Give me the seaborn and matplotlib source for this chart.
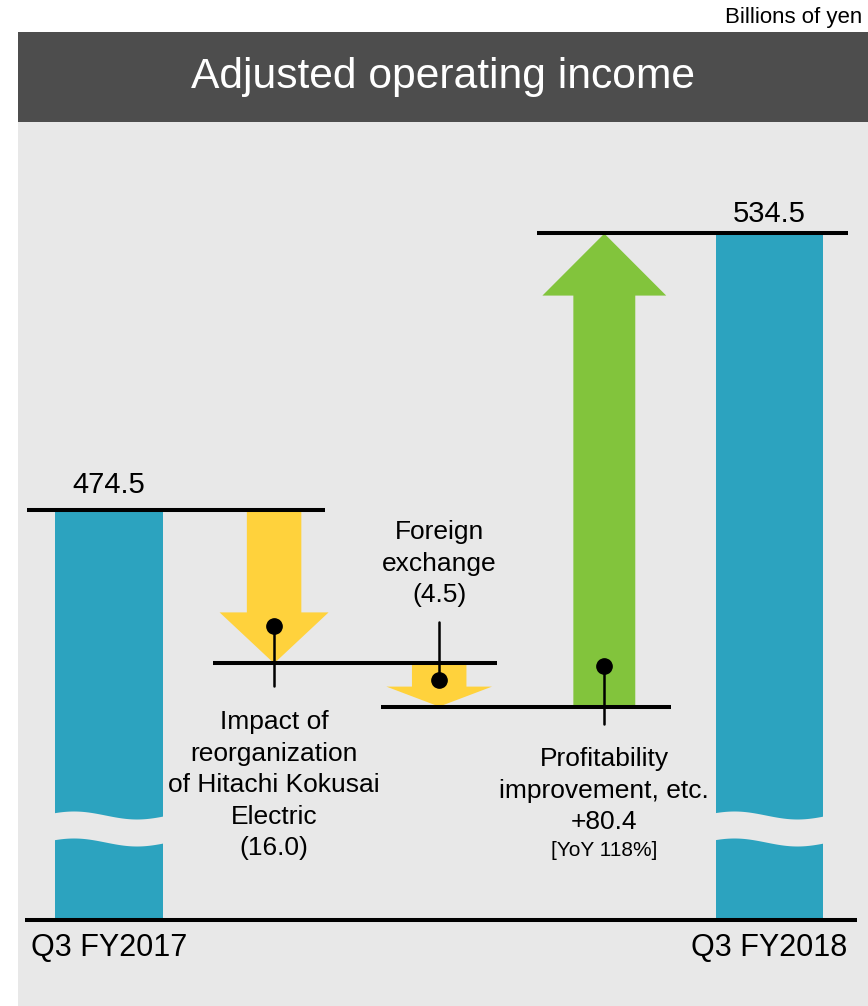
import numpy as np
import matplotlib
matplotlib.use("Agg")
import matplotlib.pyplot as plt
from matplotlib.patches import Rectangle
import seaborn as sns

# data, billions of yen
STEP_NAMES = ["Q3 FY2017", "Impact of reorganization", "Foreign exchange",
              "Profitability improvement", "Q3 FY2018"]
TOTAL_LABELS = ["Q3 FY2017", "Q3 FY2018"]
TOTAL_VALUES = [474.5, 534.5]
CHANGE_VALUES = [-16.0, -4.5, 80.4]
CHANGE_LABELS = ["Impact of\nreorganization\nof Hitachi Kokusai\nElectric\n(16.0)",
                 "Foreign\nexchange\n(4.5)",
                 "Profitability\nimprovement, etc.\n+80.4"]
YOY_NOTE = "[YoY 118%]"
UNIT_LABEL = "Billions of yen"
TITLE = "Adjusted operating income"

# colours
TEAL = "#2ca3bf"
YELLOW = "#ffd23c"
GREEN = "#82c43c"
PANEL = "#e8e8e8"
HEADER = "#4d4d4d"

# broken y axis: values -> screen pixels above the base line
Y_KNOTS = [-1000, 0, 450, 475, 540, 1000]
V_KNOTS = [-389, 0, 175, 415, 712, 2814]


def fwd(v):
    return np.interp(v, Y_KNOTS, V_KNOTS)


def inv(u):
    return np.interp(u, V_KNOTS, Y_KNOTS)


# arrow styles (x units = one step)
BAR_W = 0.65
SHAFT_W = [0.33, 0.33, 0.375]
HEAD_W = [0.66, 0.64, 0.75]
HEAD_PX = [51, 20, 62]
# leader: label side, reference line, dot offset, stalk end offset (px)
LEADERS = [("below", 1, 37, -23), ("above", 0, -17, 41), ("below", 0, 41, -17)]

sns.set_theme(style="white")
plt.rcParams["font.family"] = ["Liberation Sans", "DejaVu Sans"]
plt.rcParams["text.color"] = "black"

fig = plt.figure(figsize=(8.68, 10.06), dpi=100)
fig.patch.set_facecolor("white")
ax = fig.add_axes([18 / 868, 0, 850 / 868, 884 / 1006])
ax.set_facecolor(PANEL)

sns.barplot(x=TOTAL_LABELS, y=TOTAL_VALUES, order=STEP_NAMES, color=TEAL,
            saturation=1, width=BAR_W, errorbar=None, linewidth=0, ax=ax, zorder=1)

ax.set_yscale("function", functions=(fwd, inv))

# wavy break through the total bars
t = np.linspace(0, 1, 80)
wave = 4 * np.cos(2 * np.pi * (t - 0.18) / 1.14)
for xb in (0, 4):
    xs = xb - BAR_W / 2 - 0.01 + t * (BAR_W + 0.02)
    ax.fill_between(xs, inv(78 + wave), inv(105 + wave), color=PANEL, lw=0, zorder=2)

# levels
starts = TOTAL_VALUES[0] + np.concatenate([[0], np.cumsum(CHANGE_VALUES)[:-1]])
ends = starts + np.array(CHANGE_VALUES)
line_levels = list(starts) + [TOTAL_VALUES[-1]]
half = [BAR_W / 2] + [h / 2 for h in HEAD_W] + [BAR_W / 2]
pad_left = [0.17, 0.04, 0.03, 0.03]
pad_right = [-0.02, 0.03, 0.03, 0.15]
for i, lev in enumerate(line_levels):
    x0 = i - half[i] - pad_left[i]
    x1 = i + 1 + half[i + 1] + pad_right[i]
    ax.plot([x0, x1], [lev, lev], color="black", lw=2.9, solid_capstyle="butt", zorder=4)

# base line
ax.plot([-0.51, 4.53], [0, 0], color="black", lw=2.9, solid_capstyle="butt", zorder=4)

# arrows
for i, (s, e) in enumerate(zip(starts, ends)):
    x = i + 1
    col = GREEN if e > s else YELLOW
    d = np.sign(fwd(e) - fwd(s))
    hb = inv(fwd(e) - d * HEAD_PX[i])
    sw, hw = SHAFT_W[i] / 2, HEAD_W[i] / 2
    ax.fill([x - sw, x + sw, x + sw, x + hw, x, x - hw, x - sw],
            [s, s, hb, hb, e, hb, hb], color=col, lw=0, zorder=3)

    side, ref_i, dot_off, end_off = LEADERS[i]
    ref = fwd([s, e][ref_i])
    y_dot, y_end = inv(ref + dot_off), inv(ref + end_off)
    ax.plot([x, x], [y_dot, y_end], color="black", lw=1.8, zorder=5)
    ax.plot([x], [y_dot], "o", color="black", ms=11, zorder=6)
    if side == "below":
        txt = ax.annotate(CHANGE_LABELS[i], (x, y_end), xytext=(0, -17), textcoords="offset points",
                          ha="center", va="top", fontsize=19, linespacing=1.4)
    else:
        txt = ax.annotate(CHANGE_LABELS[i], (x, y_end), xytext=(0, 11), textcoords="offset points",
                          ha="center", va="bottom", fontsize=19, linespacing=1.4)
    if e > s:
        ax.annotate(YOY_NOTE, (0.5, 0), xycoords=txt, xytext=(0, -5), textcoords="offset points",
                    ha="center", va="top", fontsize=15)

# totals
for xb, v, lab, off in zip((0, 4), TOTAL_VALUES, TOTAL_LABELS, (12, 8)):
    ax.annotate(f"{v:.1f}", (xb, v), xytext=(0, off), textcoords="offset points",
                ha="center", va="baseline", fontsize=21)
    ax.annotate(lab, (xb, 0), xytext=(0, -9.5), textcoords="offset points",
                ha="center", va="top", fontsize=22)

ax.set_xlim(-0.551, 4.597)
ax.set_ylim(inv(-86), inv(798))
ax.set_xticks([])
ax.set_yticks([])
ax.set_xlabel("")
ax.set_ylabel("")
sns.despine(ax=ax, left=True, bottom=True)

# header
fig.add_artist(Rectangle((18 / 868, 1 - 122 / 1006), 850 / 868, 90 / 1006,
                         transform=fig.transFigure, color=HEADER, lw=0))
fig.text(443 / 868, 1 - 77 / 1006, TITLE, color="white", fontsize=30.7, ha="center", va="center")
fig.text(862 / 868, 1 - 18 / 1006, UNIT_LABEL, color="black", fontsize=16, ha="right", va="center")

fig.savefig("out.png", dpi=100, facecolor="white")
